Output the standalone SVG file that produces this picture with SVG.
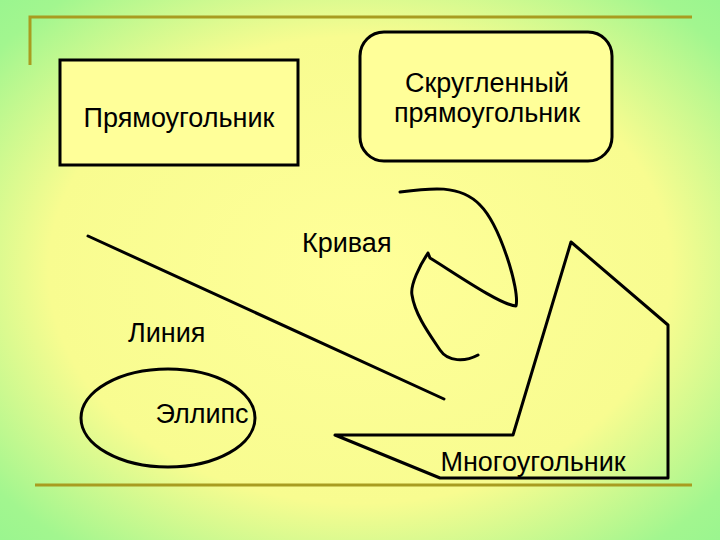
<svg xmlns="http://www.w3.org/2000/svg" width="720" height="540" viewBox="0 0 720 540">
<defs>
<radialGradient id="bg" cx="0.5" cy="0.5" r="0.72">
<stop offset="0" stop-color="#ffff99"/>
<stop offset="0.6" stop-color="#f8fc90"/>
<stop offset="0.9" stop-color="#a2f68f"/>
<stop offset="1" stop-color="#99f58f"/>
</radialGradient>
<style>
.s{fill:none;stroke:#000;stroke-width:3;stroke-linejoin:round;stroke-linecap:round}
.f{fill:#ffff99;stroke:#000;stroke-width:3}
.t{font-family:"Liberation Sans",Arial,sans-serif;font-size:27px;fill:#000}
.g{stroke:#a89c20;stroke-width:3;fill:none}
</style>
</defs>
<rect width="720" height="540" fill="url(#bg)"/>
<path class="g" d="M30,65 V17 H692"/>
<path class="g" d="M35,485 H692"/>
<g id="rect"><rect class="f" x="60" y="60" width="238" height="105"/><text class="t" x="179" y="127" text-anchor="middle">Прямоугольник</text></g>
<g id="rrect"><rect class="f" x="360" y="32" width="252" height="129" rx="24"/><text class="t" x="487" y="92" text-anchor="middle">Скругленный</text><text class="t" x="487" y="122" text-anchor="middle">прямоугольник</text></g>
<g id="curve"><path class="s" d="M400,192 C430,188 460,184 480,205 C500,225 520,290 516,306 C500,305 450,270 430,258 L428,253 C420,265 410,285 412,295 C415,315 430,335 440,350 C448,362 465,362 478,355"/><text class="t" x="302" y="252">Кривая</text></g>
<g id="line"><path class="s" d="M88,236 L444,399"/><text class="t" x="128" y="342">Линия</text></g>
<g id="ellipse"><ellipse cx="168" cy="418" rx="87" ry="49" fill="none" stroke="#000" stroke-width="3"/><text class="t" x="202" y="423" text-anchor="middle">Эллипс</text></g>
<g id="poly"><path class="s" d="M335,435 L513,435 L571,242 L668,325 L668,478 L440,478 Z"/><text class="t" x="533" y="471" text-anchor="middle">Многоугольник</text></g>
</svg>
